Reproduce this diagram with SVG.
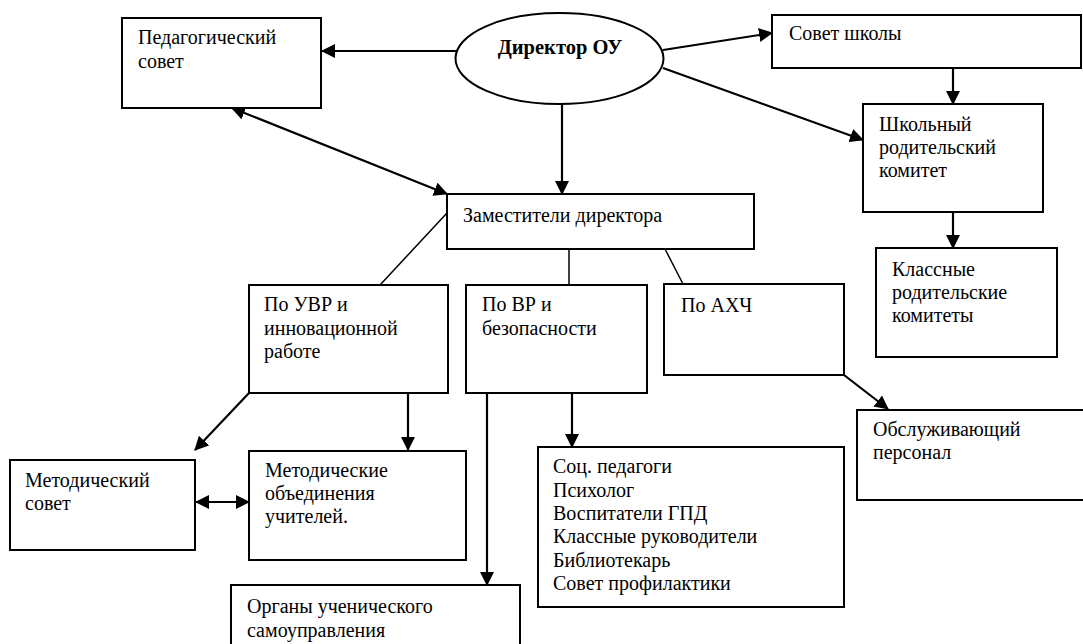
<svg xmlns="http://www.w3.org/2000/svg" width="1083" height="644" viewBox="0 0 1083 644">
<style>
.box{fill:#fff;stroke:#000;stroke-width:2}
.t{font-family:'Liberation Serif','Times New Roman','DejaVu Serif',serif;font-size:20px;fill:#000}
.b{font-weight:bold;font-size:20.5px}
.c{fill:none;stroke:#000;stroke-width:2.2}
.thin{fill:none;stroke:#000;stroke-width:1.5}
</style>
<defs>
<marker id="ah" viewBox="0 0 14 14" refX="13" refY="7" markerWidth="14" markerHeight="14" markerUnits="userSpaceOnUse" orient="auto-start-reverse">
<path d="M0,0 L14,7 L0,14 z" fill="#000"/>
</marker>
</defs>
<rect width="1083" height="644" fill="#fff"/>
<g id="connectors">
<line class="c" x1="456" y1="51" x2="322" y2="51" marker-end="url(#ah)"/>
<line class="c" x1="663" y1="50" x2="772" y2="33" marker-end="url(#ah)"/>
<line class="c" x1="663" y1="68" x2="863" y2="140" marker-end="url(#ah)"/>
<line class="c" x1="953" y1="68" x2="953" y2="104" marker-end="url(#ah)"/>
<line class="c" x1="953" y1="212" x2="953" y2="248" marker-end="url(#ah)"/>
<line class="c" x1="562" y1="104" x2="562" y2="194" marker-end="url(#ah)"/>
<line class="c" x1="232" y1="108" x2="447" y2="194" marker-start="url(#ah)" marker-end="url(#ah)"/>
<line class="thin" x1="447" y1="213" x2="380" y2="285"/>
<line class="thin" x1="569" y1="249" x2="569" y2="285"/>
<line class="thin" x1="665" y1="249" x2="683" y2="284"/>
<line class="c" x1="844" y1="375" x2="888" y2="409" marker-end="url(#ah)"/>
<line class="c" x1="572" y1="393" x2="572" y2="447" marker-end="url(#ah)"/>
<line class="c" x1="487" y1="393" x2="487" y2="585" marker-end="url(#ah)"/>
<line class="c" x1="249" y1="393" x2="195" y2="450" marker-end="url(#ah)"/>
<line class="c" x1="408" y1="393" x2="408" y2="450" marker-end="url(#ah)"/>
<line class="c" x1="196" y1="502" x2="249" y2="502" marker-start="url(#ah)" marker-end="url(#ah)"/>
</g>
<g id="ped-sovet">
<rect class="box" x="122" y="18" width="199" height="90"/>
<text class="t" x="138" y="44">Педагогический</text>
<text class="t" x="138" y="68">совет</text>
</g>
<g id="director">
<ellipse class="box" cx="559.5" cy="58.5" rx="104" ry="45.5"/>
<text class="t b" x="560" y="54" text-anchor="middle">Директор ОУ</text>
</g>
<g id="sovet-shkoly">
<rect class="box" x="772" y="15" width="309" height="53"/>
<text class="t" x="789" y="40">Совет школы</text>
</g>
<g id="shk-rod-komitet">
<rect class="box" x="863" y="104" width="180" height="108"/>
<text class="t" x="879" y="131">Школьный</text>
<text class="t" x="879" y="154">родительский</text>
<text class="t" x="879" y="177">комитет</text>
</g>
<g id="klass-rod-komitety">
<rect class="box" x="876" y="248" width="181" height="109"/>
<text class="t" x="892" y="276">Классные</text>
<text class="t" x="892" y="299">родительские</text>
<text class="t" x="892" y="322">комитеты</text>
</g>
<g id="zamestiteli">
<rect class="box" x="447" y="194" width="307" height="55"/>
<text class="t" x="463" y="222">Заместители директора</text>
</g>
<g id="po-uvr">
<rect class="box" x="249" y="285" width="199" height="108"/>
<text class="t" x="264" y="311">По УВР и</text>
<text class="t" x="264" y="335">инновационной</text>
<text class="t" x="264" y="358">работе</text>
</g>
<g id="po-vr">
<rect class="box" x="466" y="285" width="181" height="108"/>
<text class="t" x="482" y="311">По ВР и</text>
<text class="t" x="482" y="335">безопасности</text>
</g>
<g id="po-ahch">
<rect class="box" x="664" y="284" width="180" height="91"/>
<text class="t" x="681" y="312">По АХЧ</text>
</g>
<g id="obsluzh">
<rect class="box" x="857" y="410" width="240" height="90"/>
<text class="t" x="873" y="436">Обслуживающий</text>
<text class="t" x="873" y="459">персонал</text>
</g>
<g id="soc-ped">
<rect class="box" x="538" y="447" width="306" height="160"/>
<text class="t" x="553" y="473">Соц. педагоги</text>
<text class="t" x="553" y="497">Психолог</text>
<text class="t" x="553" y="520">Воспитатели ГПД</text>
<text class="t" x="553" y="543">Классные руководители</text>
<text class="t" x="553" y="567">Библиотекарь</text>
<text class="t" x="553" y="590">Совет профилактики</text>
</g>
<g id="organy">
<rect class="box" x="231" y="585" width="289" height="70"/>
<text class="t" x="247" y="613">Органы ученического</text>
<text class="t" x="247" y="637">самоуправления</text>
</g>
<g id="metod-sovet">
<rect class="box" x="10" y="460" width="185" height="90"/>
<text class="t" x="25" y="487">Методический</text>
<text class="t" x="25" y="510">совет</text>
</g>
<g id="metod-obyed">
<rect class="box" x="249" y="451" width="217" height="109"/>
<text class="t" x="265" y="477">Методические</text>
<text class="t" x="265" y="500">объединения</text>
<text class="t" x="265" y="523">учителей.</text>
</g>
</svg>
